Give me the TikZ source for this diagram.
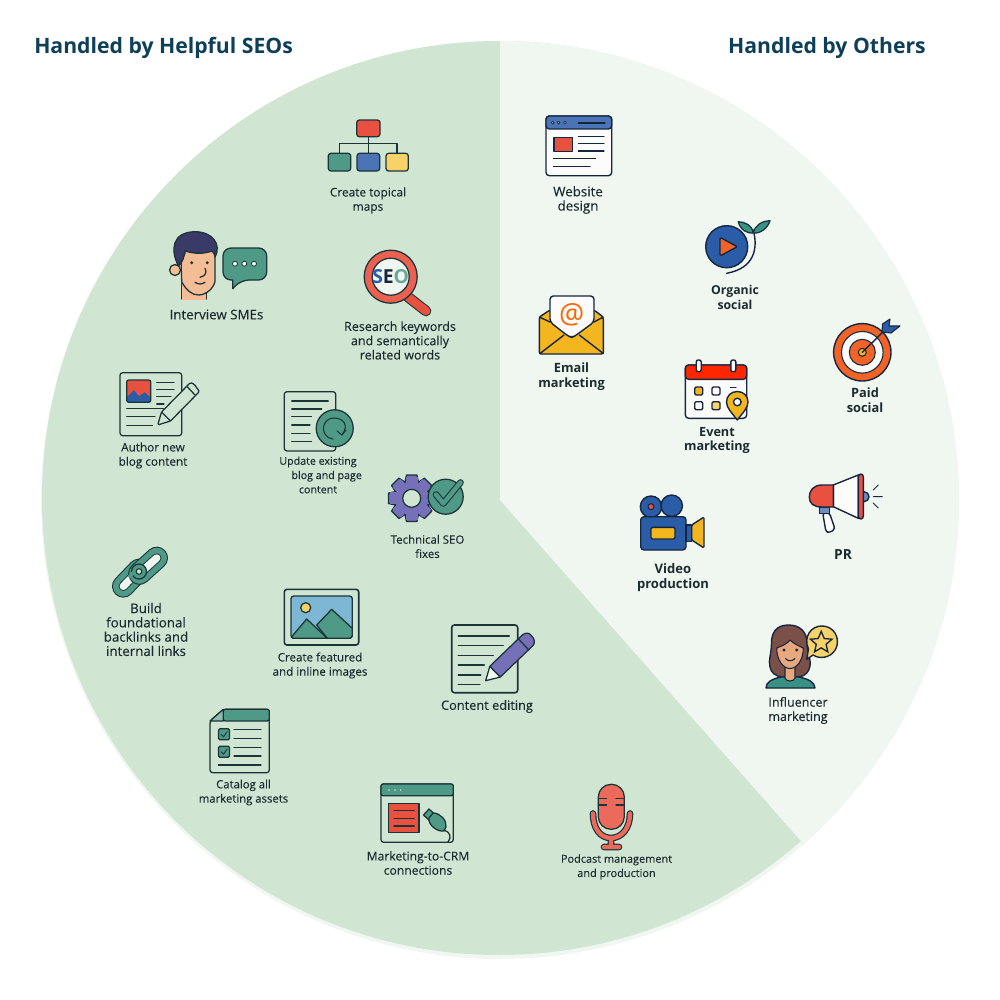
\documentclass[tikz,border=0pt]{standalone}
\usepackage{fontspec}
\setmainfont{Open Sans}
\newfontfamily\regfont[FakeBold=0.15]{Open Sans}
\usetikzlibrary{shapes.geometric}
\definecolor{darkpie}{HTML}{D1E5D3}
\definecolor{lightpie}{HTML}{F0F7F1}
\definecolor{headc}{HTML}{0E3F58}
\definecolor{inkc}{HTML}{1B3438}
\definecolor{navyc}{HTML}{17263F}
\definecolor{txtc}{HTML}{1C2B30}
\definecolor{redc}{HTML}{E8503F}
\definecolor{tealc}{HTML}{4F9A86}
\definecolor{bluec}{HTML}{2A5CA8}
\definecolor{skyc}{HTML}{7DB7D3}
\definecolor{yellowc}{HTML}{F3B61F}
\definecolor{softy}{HTML}{F6D268}
\definecolor{purplec}{HTML}{7570B8}
\definecolor{skinc}{HTML}{F4BD96}
\definecolor{skintwo}{HTML}{E8A87E}
\definecolor{hairc}{HTML}{3A3A68}
\definecolor{hairtwo}{HTML}{7B5048}
\definecolor{whitec}{HTML}{FBFCFB}
\tikzset{
  ink/.style={draw=inkc,line width=0.95pt,line join=round,line cap=round},
  navy/.style={draw=navyc,line width=1.05pt,line join=round,line cap=round},
  head/.style={text=headc,inner sep=0pt,font=\bfseries\fontsize{15.9}{20}\selectfont},
  lbl/.style={text=txtc,inner sep=0pt,align=center,font=\regfont\fontsize{#1}{10.7}\selectfont},
  lblm/.style={text=txtc,inner sep=0pt,align=center,font=\bfseries\fontsize{#1}{11.1}\selectfont},
}
\begin{document}
\begin{tikzpicture}[x=0.75pt,y=-0.75pt]
\useasboundingbox (0,0) rectangle (1000,1000);
% pie
\fill[lightpie] (500,500) circle (459);
\fill[darkpie] (499,498) circle (457);
\begin{scope}
\clip (500,500) circle (459);
\fill[lightpie] (500,500) -- (500,0) -- (1000,0) -- (1000,1020) -- (959,1020) -- cycle;
\end{scope}
\node[head,anchor=base west] (helpfulhead) at (34,53) {Handled by Helpful SEOs};
\node[head,anchor=base east] (othershead) at (926,53) {Handled by Others};

% topical map
\draw[ink] (368.3,136) -- (368.3,154) (339.5,154) -- (339.5,143.3) -- (397,143.3) -- (397,154);
\filldraw[ink,fill=redc,rounded corners=2pt] (356.7,120) rectangle (380,136.7);
\filldraw[ink,fill=tealc,rounded corners=2pt] (328.3,153.3) rectangle (350.7,171);
\filldraw[ink,fill=bluec!85!white,rounded corners=2pt] (357,153.3) rectangle (379.7,171);
\filldraw[ink,fill=softy,rounded corners=2pt] (386,153.3) rectangle (408.3,171);
\node[lbl=8.9] (topical) at (368,200.5) {Create topical\\maps};

% interview
\fill[skinc] (181.7,285) -- (206.7,285) -- (206.7,300) -- (181.7,300) -- cycle;
\draw[ink] (181.7,283) -- (181.7,299) (206.7,292) -- (206.7,299);
\filldraw[ink,fill=skinc] (175,270) circle (5.5);
\filldraw[ink,fill=skinc] (180.7,250) -- (181.7,281.7) .. controls (186,290) and (192,295) .. (198.3,295) .. controls (206,295) and (213,289) .. (215,281.7) -- (215,250) -- cycle;
\filldraw[ink,fill=hairc] (178.5,266) .. controls (170,250) and (172,232) .. (195,231.7) .. controls (212,231.7) and (222,244) .. (215,257) .. controls (215,255) and (214,253) .. (212,251) .. controls (204,254) and (194,254) .. (185.5,251) .. controls (184,256) and (183,262) .. (178.5,266) -- cycle;
\fill[inkc] (191.7,262.7) circle (1.6) (207.3,262.7) circle (1.6);
\draw[ink] (205,268.3) .. controls (207,272) and (206,276) .. (200,277.3) (195,282.3) .. controls (198,284.5) and (202,284.5) .. (205,282.3);
\filldraw[ink,fill=tealc] (232.7,280) [rounded corners=6pt] -- (223,280) -- (223,248) -- (266.7,248) -- (266.7,280) -- (241,280) [sharp corners] -- (232.7,288.7) -- cycle;
\foreach \x in {235,244.3,254}
  \filldraw[ink,fill=whitec,line width=0.6pt] (\x,263.7) circle (2.5);
\node[lbl=10] (interview) at (216.5,314.5) {Interview SMEs};

% research
\draw[ink,line width=8pt] (408,297) -- (426,311);
\draw[redc,line width=6.4pt,line cap=round] (408,297) -- (426,311);
\filldraw[ink,fill=redc!90!white] (390.7,276.7) circle (26.5);
\filldraw[ink,fill=lightpie] (390.7,276.7) circle (18.5);
\node[inner sep=0pt,font=\bfseries\fontsize{14.5}{16}\selectfont] (seo) at (390.7,276.5) {\textcolor{bluec}{S}\textcolor{navyc}{E}\textcolor{tealc!85!white}{O}};
\node[lbl=9.4] (research) at (400,340.5) {Research keywords\\and semantically\\related words};

% author
\draw[ink,rounded corners=2pt] (120,372.7) rectangle (181.7,435.7);
\fill[bluec] (126.7,380) rectangle (150.7,402.3);
\fill[redc] (126.7,380) -- (150.7,380) -- (150.7,398) -- (145,392) -- (139,396) -- (134,390) -- (126.7,397) -- cycle;
\draw[ink,rounded corners=1.5pt] (126.7,380) rectangle (150.7,402.3);
\draw[ink,line width=0.8pt] (156.7,382.7) -- (174,382.7) (156.7,389.7) -- (174,389.7) (156.7,396.7) -- (171,396.7) (156.7,404) -- (164,404) (126.7,408.3) -- (163.3,408.3) (126.7,416.7) -- (155,416.7) (126.7,425.7) -- (152.7,425.7);
\filldraw[ink,fill=darkpie,rounded corners=1pt] (157.7,425) -- (161.5,412) -- (190.5,382.5) -- (194,384) -- (199.5,391.5) -- (170.5,421) -- cycle;
\draw[ink] (161.5,412) -- (170.5,421) (187,386.5) -- (195,395);
\node[lbl=8.8] (author) at (153,455.5) {Author new\\blog content};

% update page
\filldraw[ink,fill=darkpie,rounded corners=2pt] (284.3,391.7) rectangle (335.7,451);
\draw[ink,line width=0.8pt] (291.7,401) -- (328.3,401) (291.7,409) -- (321.7,409) (291.7,416.7) -- (311.7,416.7) (291.7,425) -- (310,425) (291.7,433.3) -- (310,433.3) (291.7,441.7) -- (311.7,441.7);
\filldraw[ink,fill=tealc] (334.7,428.3) circle (18.5);
\draw[ink,line width=0.8pt] (342,435) .. controls (350,424) and (342,418) .. (334,418) .. controls (325,418) and (321,428) .. (325,434) .. controls (327,437) and (330,439) .. (333,439);
\draw[ink,line width=0.8pt] (337,431) -- (342,435) -- (346,430);
\node[lbl=8] (update) at (318,475) {Update existing\\\hspace*{13pt}blog and page\\content};

% technical seo
\foreach \a in {0,45,...,315}
  \filldraw[ink,fill=purplec,rotate around={\a:(411.7,498.3)}] (405,482) -- (406.5,475) -- (416.9,475) -- (418.4,482);
\filldraw[ink,fill=purplec] (411.7,498.3) circle (17.5);
\foreach \a in {0,45,...,315}
  \fill[purplec,rotate around={\a:(411.7,498.3)}] (405.8,477) rectangle (417.6,484);
\filldraw[ink,fill=darkpie] (411.7,498.3) circle (9);
\filldraw[ink,fill=tealc] (445.7,496.7) circle (17.5);
\draw[ink,line width=5pt] (436,494.5) -- (443.3,503.5) -- (460.5,482.5);
\draw[tealc,line width=3.4pt,line cap=round,line join=round] (436,494.5) -- (443.3,503.5) -- (460.5,482.5);
\node[lbl=8.6] (technical) at (427.5,546.5) {Technical SEO\\fixes};

% links
\draw[ink,line width=17pt] (123.3,586.3) -- (139,570);
\draw[tealc,line width=15.4pt,line cap=round] (123.3,586.3) -- (139,570);
\draw[ink,line width=7pt] (123.3,586.3) -- (139,570);
\draw[lightpie,line width=5.6pt,line cap=round] (123.3,586.3) -- (139,570);
\draw[ink,line width=17pt] (139.5,573.5) -- (156.7,558);
\draw[tealc,line width=15.4pt,line cap=round] (139.5,573.5) -- (156.7,558);
\draw[ink,line width=7pt] (139.5,573.5) -- (156.7,558);
\draw[lightpie,line width=5.6pt,line cap=round] (139.5,573.5) -- (156.7,558);
\filldraw[ink,fill=tealc] (139,571.5) circle (7.5);
\filldraw[ink,fill=darkpie,line width=0.8pt] (139,571.5) circle (2.8);
\draw[tealc,line width=2.5pt] (129,577) -- (134,572);
\node[lbl=10] (build) at (146,629.5) {Build\\foundational\\backlinks and\\internal links};

% featured image
\draw[ink,line width=1.2pt,rounded corners=2pt] (284.3,589.3) rectangle (358.7,645);
\filldraw[ink,fill=skyc,rounded corners=2pt] (291,596) rectangle (352.3,638.3);
\filldraw[ink,fill=tealc] (316.7,625) -- (331.7,609.3) -- (352.3,628.3) -- (352.3,636) -- (350,638.3) -- (327.3,638.3) -- cycle;
\filldraw[ink,fill=tealc] (291.7,636.7) -- (306.7,619) -- (327.3,638.3) -- (293,638.3) -- cycle;
\filldraw[ink,fill=softy] (305.7,607.7) circle (5);
\node[lbl=8.7] (featured) at (320,665.5) {Create featured\\and inline images};

% content editing
\draw[ink,line width=1.2pt,rounded corners=2pt] (451.7,625) rectangle (517.7,692.7);
\draw[ink] (458.3,636) -- (509.3,636) (458.3,645.7) -- (503.3,645.7) (458.3,655.7) -- (493.3,655.7) (458.3,665) -- (484.3,665) (458.3,675) -- (480.7,675) (458.3,684.3) -- (480,684.3);
\filldraw[ink,fill=purplec,rounded corners=1pt] (489.8,666.3) -- (523.8,633.6) -- (529,633) -- (534.2,639) -- (534.2,644.4) -- (500.2,677.1) -- cycle;
\filldraw[ink,fill=lightpie] (485.7,680.7) -- (489.8,666.3) -- (500.2,677.1) -- cycle;
\draw[ink] (518.5,639) -- (528.8,650);
\node[lbl=9.6] (editing) at (487,706.5) {Content editing};

% catalog
\draw[ink,rounded corners=2pt,fill=darkpie] (223.3,709.3) -- (269.3,709.3) -- (269.3,772.7) -- (210,772.7) -- (210,721) -- cycle;
\filldraw[ink,fill=tealc,rounded corners=1.5pt] (223.3,709.3) -- (269.3,709.3) -- (269.3,721) -- (223.3,721) -- cycle;
\filldraw[ink,fill=tealc!50!darkpie] (210,721) -- (223.3,709.3) -- (223.3,721) -- cycle;
\foreach \y in {734.3,751.7}{
  \filldraw[ink,fill=tealc,rounded corners=1pt] (218.5,\y-5.5) rectangle (229.5,\y+5.5);
  \draw[ink,line width=0.7pt] (221,\y) -- (223.5,\y+2.5) -- (227,\y-2.5);
}
\draw[ink,line width=0.8pt] (234,729.3) -- (261,729.3) (234,738.3) -- (261,738.3) (234,747.7) -- (261,747.7) (234,756) -- (261,756) (218.3,765) -- (261,765);
\node[lbl=8.5] (catalog) at (243.5,792.5) {Catalog all\\marketing assets};

% crm
\draw[ink,rounded corners=2pt] (381,784) rectangle (453.3,842.3);
\filldraw[ink,fill=tealc,rounded corners=1.5pt] (381,784) rectangle (453.3,795.7);
\fill[darkpie] (389,790) circle (0.8) (395,790) circle (0.8) (400.7,790) circle (0.8);
\filldraw[ink,fill=redc] (388.3,803.3) rectangle (419,832.3);
\draw[ink,line width=0.8pt] (394,810.7) -- (414.3,810.7) (394,818.3) -- (414.3,818.3) (394,826) -- (414.3,826);
\filldraw[ink,fill=tealc] (423.5,815) -- (429,809) -- (436,815.5) -- (430.5,821.5) -- cycle;
\filldraw[ink,fill=tealc] (433,813) .. controls (440,813) and (447,820) .. (446,827) -- (444,831) .. controls (437,832) and (428,825) .. (429,818) -- cycle;
\draw[ink] (444,830) .. controls (450,832) and (452,837) .. (448,842);
\node[lbl=9.1] (crm) at (418,863) {Marketing-to-CRM\\connections};

% website
\filldraw[navy,fill=whitec,rounded corners=2.5pt] (546,116) rectangle (611.7,175.7);
\filldraw[navy,fill=bluec!85!white,rounded corners=2.5pt] (546,129) -- (546,116) -- (611.7,116) -- (611.7,129) -- cycle;
\foreach \x in {552.7,558.7,565}
  \filldraw[navy,fill=whitec,line width=0.6pt] (\x,122.7) circle (1.4);
\draw[navy] (578.3,123) -- (605,123);
\filldraw[navy,fill=redc] (554,137.3) rectangle (572.3,151.7);
\draw[navy,line width=0.8pt] (578.3,136.7) -- (604,136.7) (578.3,143.7) -- (604,143.7) (578.3,151) -- (604,151) (553.3,158.7) -- (595.7,158.7) (553.3,166.7) -- (590,166.7);
\node[lbl=10] (website) at (578,200) {Website\\design};

% organic
\draw[navy] (753.3,230) .. controls (758,248) and (755,268) .. (726.7,273.3);
\filldraw[navy,fill=bluec] (726.7,246.7) circle (21);
\filldraw[navy,fill=redc!60!orange,rounded corners=1pt] (720,237.3) -- (737.3,246.7) -- (720,256) -- cycle;
\filldraw[ink,fill=tealc!70!teal] (753.3,233) .. controls (752,225) and (745,222) .. (738.3,221.7) .. controls (740,230) and (748,234) .. (753.3,233) -- cycle;
\filldraw[ink,fill=tealc!70!teal] (753.3,233) .. controls (755,225) and (762,221) .. (770,220.7) .. controls (768,228) and (760,234) .. (753.3,233) -- cycle;
\node[lblm=9.2] (organic) at (735,297.5) {Organic\\social};

% email
\filldraw[navy,fill=yellowc,rounded corners=1.5pt] (539.3,317) -- (550,310) -- (594,310) -- (603.3,317) -- (603.3,354) -- (539.3,354) -- cycle;
\filldraw[navy,fill=whitec,rounded corners=2.5pt] (550,322) -- (550,296) -- (594,296) -- (594,322) -- (575,336) -- (571.7,337.5) -- (568,336) -- cycle;
\draw[navy] (539.3,317) -- (550,322) (603.3,317) -- (594,322) (540,353.5) -- (564,335) (603.3,353.5) -- (579.3,335);
\node[inner sep=0pt,text=orange!80!red,font=\fontsize{21}{22}\selectfont] (atsign) at (571.7,314.5) {@};
\node[lblm=9.6] (email) at (571.5,376.5) {Email\\marketing};

% event
\filldraw[navy,fill=whitec,rounded corners=2.5pt] (685.3,365) rectangle (746.7,418.3);
\filldraw[navy,fill=orange!30!red,rounded corners=2.5pt] (685.3,379.3) -- (685.3,365) -- (746.7,365) -- (746.7,379.3) -- cycle;
\foreach \x in {698.7,733.3}
  \filldraw[navy,fill=whitec,rounded corners=1.5pt] (\x-2.5,360) rectangle (\x+2.5,371.7);
\filldraw[navy,fill=yellowc,rounded corners=1pt] (694.7,387) rectangle (702.7,395);
\filldraw[navy,fill=whitec,rounded corners=1pt] (712,387) rectangle (720,395);
\filldraw[navy,fill=whitec,rounded corners=1pt] (694.7,401.7) rectangle (702.7,409.7);
\filldraw[navy,fill=softy,rounded corners=1pt] (712,401.7) rectangle (720,409.7);
\draw[navy] (730.5,387.3) -- (736,387.3);
\filldraw[navy,fill=yellowc] (737.3,420) .. controls (732,413) and (726.5,408) .. (726.5,402) .. controls (726.5,396) and (731,391.5) .. (737.3,391.5) .. controls (743.5,391.5) and (748,396) .. (748,402) .. controls (748,408) and (742.5,413) .. (737.3,420) -- cycle;
\filldraw[navy,fill=whitec] (737.3,402) circle (3.8);
\node[lblm=9.5] (event) at (717,440.5) {Event\\marketing};

% target
\filldraw[navy,fill=redc!60!orange] (862.3,352.3) circle (28.7);
\filldraw[navy,fill=whitec,line width=0.8pt] (862.3,352.3) circle (20.8);
\filldraw[navy,fill=redc!60!orange,line width=0.8pt] (862.3,352.3) circle (13);
\filldraw[navy,fill=yellowc,line width=0.8pt] (862.3,352.3) circle (4);
\draw[navy] (862.3,352.3) -- (888,327);
\filldraw[navy,fill=bluec,line width=0.8pt] (882,332) -- (882.5,324) -- (890,319) -- (889,326) -- (900,326) -- (891,333) -- cycle;
\node[lblm=9.6] (paid) at (865,400.5) {Paid\\social};

% megaphone
\filldraw[navy,fill=bluec!70!white] (864,496.7) circle (5);
\filldraw[navy,fill=whitec,rounded corners=2pt] (822.7,513) -- (829.5,513) -- (835,529) -- (830,532.5) -- (826,532) -- cycle;
\filldraw[navy,fill=bluec!70!white] (819.3,507.3) rectangle (829.3,513.3);
\filldraw[navy,fill=whitec] (833.3,485) -- (858.3,475) -- (858.3,518.3) -- (833.3,506.7) -- cycle;
\filldraw[navy,fill=redc] (833.3,485) -- (822,485) .. controls (813,485) and (809.3,491) .. (809.3,497) .. controls (809.3,503) and (813,507) .. (822,507) -- (833.3,507) -- cycle;
\filldraw[navy,fill=redc,rounded corners=2pt] (858.3,474) rectangle (863.3,519);
\draw[navy,line width=0.7pt] (873.3,490) -- (878.3,485) (873.3,496.7) -- (882.3,496.7) (873.3,503) -- (878.3,508);
\node[lblm=10.4] (pr) at (843,555) {PR};

% video
\filldraw[navy,fill=bluec] (651,506.7) circle (10.7);
\filldraw[navy,fill=bluec] (671.7,505.7) circle (10.7);
\filldraw[navy,fill=redc,line width=0.8pt] (651,506.7) circle (3);
\filldraw[navy,fill=bluec,rounded corners=2.5pt] (640.7,516.7) rectangle (686,550);
\filldraw[navy,fill=yellowc,rounded corners=1pt] (651,527.3) rectangle (675,539);
\filldraw[navy,fill=bluec] (686,525) rectangle (691.7,541.7);
\filldraw[navy,fill=yellowc,rounded corners=1pt] (691.7,525) -- (704,517) -- (704,548) -- (691.7,540) -- cycle;
\node[lblm=9.8] (video) at (673,577.5) {Video\\production};

% influencer
\filldraw[navy,fill=hairtwo] (788.5,625) .. controls (776,625) and (771.5,633) .. (771.5,643) .. controls (771.5,654) and (768,660) .. (770,667) .. controls (771,673) and (776,676) .. (781,677) -- (799,677) .. controls (805,676) and (809,672) .. (810,666) .. controls (811,658) and (807,652) .. (807,643) .. controls (807,632) and (800,625) .. (788.5,625) -- cycle;
\filldraw[navy,fill=tealc!70!teal] (766,688) .. controls (766,682) and (772,679) .. (781,677) -- (799,677) .. controls (808,679) and (815,682) .. (815,688) -- cycle;
\filldraw[navy,fill=skintwo,line width=0.8pt] (785,667) -- (785,678) .. controls (786,682) and (794,682) .. (795,678) -- (795,667) -- cycle;
\filldraw[navy,fill=skintwo,line width=0.8pt] (776.7,648) .. controls (782,646) and (787,644) .. (790,640) .. controls (794,644) and (799,646) .. (803.3,648) .. controls (803.3,660) and (797,668.5) .. (790,668.5) .. controls (783,668.5) and (776.7,660) .. (776.7,648) -- cycle;
\fill[navyc] (784,650) circle (1.6) (796.7,650) circle (1.6);
\draw[navy,line width=0.8pt] (785.5,658.5) .. controls (788,661.5) and (792,661.5) .. (795,658.5);
\filldraw[navy,fill=softy] (806.7,659.3) -- (808.5,649) .. controls (803,637) and (811,626) .. (821.7,626) .. controls (831,626) and (837.4,633) .. (837.4,641.7) .. controls (837.4,651) and (830,657.4) .. (821.7,657.4) .. controls (818,657.4) and (815,656.5) .. (813,655) -- cycle;
\node[star,star points=5,star point ratio=2.2,draw=navyc,line width=1pt,fill=softy,inner sep=0pt,minimum size=17pt] (favstar) at (821.2,642.7) {};
\node[lbl=9.4] (influencer) at (798,710.5) {Influencer\\marketing};

% microphone
\draw[ink,line width=5pt] (593,813.5) .. controls (593,828) and (600,838) .. (611,838) .. controls (622,838) and (630,828) .. (630,813.5) (611,838) -- (611,846) (604,847) -- (619,847);
\draw[redc!85!white,line width=3.2pt,line cap=round] (593,813.5) .. controls (593,828) and (600,838) .. (611,838) .. controls (622,838) and (630,828) .. (630,813.5) (611,838) -- (611,846) (604,847) -- (619,847);
\filldraw[ink,fill=redc!85!white,rounded corners=9.5pt] (598.3,784.3) rectangle (624.3,829.3);
\draw[ink,line width=0.8pt] (598.3,798.5) -- (606.5,798.5) (598.3,805) -- (606.5,805) (616,798.5) -- (624.3,798.5) (616,805) -- (624.3,805);
\node[lbl=8.2] (podcast) at (616.5,867) {Podcast management\\and production};
\end{tikzpicture}
\end{document}
